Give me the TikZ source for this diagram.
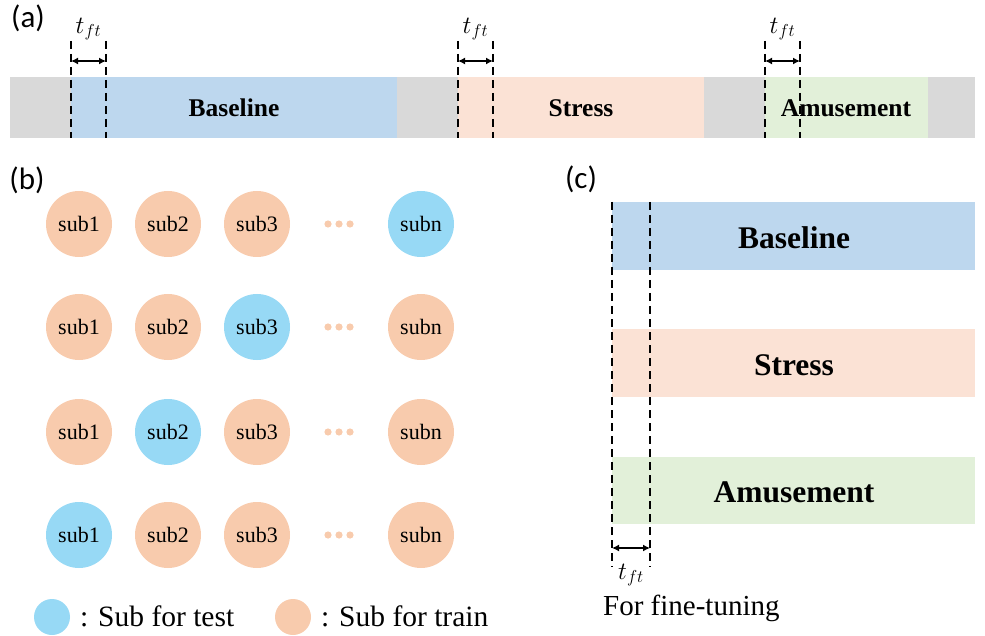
\documentclass[tikz,border=0pt]{standalone}
\usepackage{fontspec}
\setmainfont{Liberation Serif}
\newfontfamily\labelfont{Carlito}
\usetikzlibrary{arrows.meta}
\definecolor{graybar}{HTML}{D9D9D9}
\definecolor{bluebar}{HTML}{BDD7EE}
\definecolor{pinkbar}{HTML}{FBE2D5}
\definecolor{greenbar}{HTML}{E2F0D9}
\definecolor{trainc}{HTML}{F8CBAD}
\definecolor{testc}{HTML}{97D9F5}
\definecolor{dotc}{HTML}{F8CBAD}
\tikzset{
  panel/.style={font=\labelfont\fontsize{31}{31}\selectfont, inner sep=0pt},
  phase/.style={font=\bfseries\fontsize{25.5}{26}\selectfont, inner sep=0pt},
  phasebig/.style={font=\bfseries\fontsize{31.5}{32}\selectfont, inner sep=0pt},
  cut/.style={line width=2.2pt, dash pattern=on 8pt off 5pt},
  span/.style={line width=1.8pt, {Latex[length=7pt,width=7pt]}-{Latex[length=7pt,width=7pt]}},
  tft/.style={font=\fontsize{26}{26}\selectfont, inner sep=0pt},
  sub/.style={circle, minimum size=66pt, inner sep=0pt, font=\fontsize{22}{22}\selectfont},
  train/.style={sub, fill=trainc},
  test/.style={sub, fill=testc},
  legtext/.style={font=\fontsize{29.5}{30}\selectfont, inner sep=0pt, anchor=west},
}
\begin{document}
\begin{tikzpicture}[x=1pt,y=-1pt]
\useasboundingbox (0,0) rectangle (985,636);

% ---------------- (a) whole recording timeline ----------------
\node[panel] (la) at (28,18) {(a)};
\fill[graybar]  (10,77)  rectangle (71,138);
\fill[bluebar]  (71,77)  rectangle (397,138);
\fill[graybar]  (397,77) rectangle (458,138);
\fill[pinkbar]  (458,77) rectangle (704,138);
\fill[graybar]  (704,77) rectangle (765,138);
\fill[greenbar] (765,77) rectangle (928,138);
\fill[graybar]  (928,77) rectangle (975,138);
\node[phase] (abase)  at (234,108) {Baseline};
\node[phase] (astress) at (581,108) {Stress};
\node[phase] (aamuse) at (846,108) {Amusement};

\foreach \xa/\xb/\nm in {71/106/b, 458/493/s, 765/800/m}{
  \coordinate (\nm t1) at (\xa,41);
  \coordinate (\nm b1) at (\xa,138);
  \coordinate (\nm t2) at (\xb,41);
  \coordinate (\nm b2) at (\xb,138);
  \coordinate (\nm a1) at (\xa,61);
  \coordinate (\nm a2) at (\xb,61);
  \draw[cut] (\nm t1) -- (\nm b1);
  \draw[cut] (\nm t2) -- (\nm b2);
  \draw[span] (\nm a1) -- (\nm a2);
  \node[tft] (\nm lab) at ({(\xa+\xb)/2},29) {$t_{ft}$};
}

% ---------------- (b) leave-one-subject-out folds ----------------
\node[panel] (lb) at (27,180) {(b)};
\foreach \y/\ta/\tb/\tc/\tn [count=\r] in {224/train/train/train/test,
                                          327/train/train/test/train,
                                          432/train/test/train/train,
                                          535/test/train/train/train}{
  \node[\ta] (s1r\r) at (79,\y)  {sub1};
  \node[\tb] (s2r\r) at (168,\y) {sub2};
  \node[\tc] (s3r\r) at (257,\y) {sub3};
  \node[\tn] (snr\r) at (421,\y) {subn};
  \foreach \dx in {328,339,350}
    \fill[dotc] (\dx,\y) circle (3.6pt);
}

% legend
\node[circle, fill=testc, minimum size=36pt, inner sep=0pt] (kt) at (52,617) {};
\node[legtext] (ktt) at (80,616) {: Sub for test};
\node[circle, fill=trainc, minimum size=36pt, inner sep=0pt] (kr) at (293,617) {};
\node[legtext] (krt) at (321,616) {: Sub for train};

% ---------------- (c) fine-tuning windows ----------------
\node[panel] (lc) at (581,179) {(c)};
\fill[bluebar]  (612,202) rectangle (975,270);
\fill[pinkbar]  (612,329) rectangle (975,397);
\fill[greenbar] (612,457) rectangle (975,524);
\node[phasebig] (cbase)  at (794,238) {Baseline};
\node[phasebig] (cstress) at (794,365) {Stress};
\node[phasebig] (camuse) at (794,492) {Amusement};

\coordinate (ct1) at (612,202);
\coordinate (cb1) at (612,567);
\coordinate (ct2) at (650,202);
\coordinate (cb2) at (650,567);
\coordinate (ca1) at (612,548);
\coordinate (ca2) at (650,548);
\draw[cut] (ct1) -- (cb1);
\draw[cut] (ct2) -- (cb2);
\draw[span] (ca1) -- (ca2);
\node[tft] (clab) at (631,575) {$t_{ft}$};
\node[font=\fontsize{29}{29}\selectfont, inner sep=0pt, anchor=west] (cft) at (603,608) {For fine-tuning};
\end{tikzpicture}
\end{document}
